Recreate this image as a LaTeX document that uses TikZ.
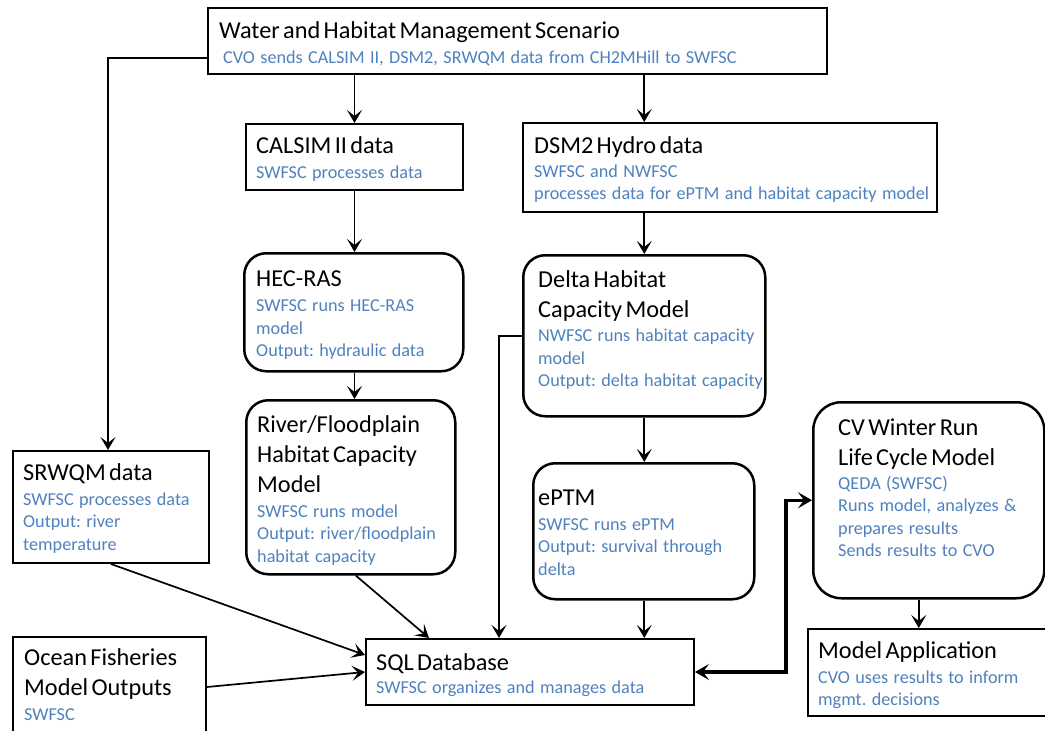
\documentclass[tikz,border=0pt]{standalone}
\usepackage{fontspec}
\setmainfont{Carlito}
\usetikzlibrary{arrows.meta,calc}
\definecolor{myblue}{HTML}{4F81BD}
\frenchspacing
\newcommand\ttl{\fontsize{24.3}{30}\selectfont}
\newcommand\blu{\color{myblue}\fontsize{18.2}{22.5}\selectfont\spaceskip=5.4pt plus 1pt minus 1pt\relax}
\newcommand\fst{\rule{0pt}{20pt}}
\tikzset{
  rbox/.style={draw, line width=2pt, anchor=north west, inner sep=0pt},
  rrbox/.style={draw, line width=2.5pt, rounded corners=22pt, anchor=north west, inner sep=0pt},
  txt/.style={anchor=north west, inner sep=0pt, text width=620pt, align=left},
  arr/.style={line width=1.7pt, -{Stealth[length=13pt,width=15pt,inset=6pt]}},
  dbl/.style={line width=3.5pt, {Stealth[length=14pt,width=16pt,inset=6pt]}-{Stealth[length=14pt,width=16pt,inset=6pt]}},
}
\begin{document}
\begin{tikzpicture}[x=1pt,y=-1pt]
\useasboundingbox (0,0) rectangle (1045,731);
% boxes
\node[rbox, minimum width=619pt, minimum height=66pt] (top) at (207,7) {};
\node[rbox, minimum width=217pt, minimum height=66pt] (calsim) at (245,123) {};
\node[rbox, minimum width=414pt, minimum height=89pt] (dsm) at (522,122) {};
\node[rrbox, minimum width=219pt, minimum height=118pt] (hec) at (243,252) {};
\node[rrbox, minimum width=242pt, minimum height=161pt] (delta) at (522,254) {};
\node[rrbox, minimum width=209pt, minimum height=174pt] (river) at (245,399) {};
\node[rbox, minimum width=196pt, minimum height=112pt] (srwqm) at (12,450) {};
\node[rrbox, minimum width=221pt, minimum height=136pt] (eptm) at (532,462) {};
\node[rrbox, rounded corners=28pt, minimum width=231pt, minimum height=196pt] (cv) at (812,401) {};
\node[rbox, minimum width=328pt, minimum height=66pt] (sql) at (365,638) {};
\node[rbox, minimum width=243pt, minimum height=87pt] (model) at (807,628) {};
\node[rbox, minimum width=193pt, minimum height=110pt] (ocean) at (12,636) {};
% texts
\node[txt] (ttop) at (219,18) {{\fst\ttl Water and Habitat Management Scenario\par}\vspace{2.5pt}{\blu\hspace*{4pt}CVO sends CALSIM II, DSM2, SRWQM data from CH2MHill to SWFSC\par}};
\node[txt] (tcalsim) at (256,133) {{\fst\ttl CALSIM II data\par}\vspace{2.5pt}{\blu SWFSC processes data\par}};
\node[txt] (tdsm) at (534,133) {{\fst\ttl DSM2 Hydro data\par}\vspace{1.5pt}{\blu SWFSC and NWFSC\\ processes data for ePTM and habitat capacity model\par}};
\node[txt] (thec) at (256,266) {{\fst\ttl HEC-RAS\par}\vspace{3pt}{\blu SWFSC runs HEC-RAS\\ model\\ Output: hydraulic data\par}};
\node[txt] (tdelta) at (538,267) {{\fst\ttl Delta Habitat\\ Capacity Model\par}\vspace{2pt}{\blu NWFSC runs habitat capacity\\ model\\ Output: delta habitat capacity\par}};
\node[txt] (triver) at (257,412) {{\fst\ttl River/Floodplain\\ Habitat Capacity\\ Model\par}\vspace{2.5pt}{\blu SWFSC runs model\\ Output: river/floodplain\\ habitat capacity\par}};
\node[txt] (tsrwqm) at (23,460) {{\fst\ttl SRWQM data\par}\vspace{2.5pt}{\blu SWFSC processes data\\ Output: river\\ temperature\par}};
\node[txt] (teptm) at (538,485) {{\fst\ttl ePTM\par}\vspace{2.5pt}{\blu SWFSC runs ePTM\\ Output: survival through\\ delta\par}};
\node[txt] (tcv) at (838,415) {{\fst\ttl CV Winter Run\\ Life Cycle Model\par}\vspace{1.5pt}{\blu QEDA (SWFSC)\\ Runs model, analyzes \&\\ prepares results\\ Sends results to CVO\par}};
\node[txt] (tsql) at (376,650) {{\fst\ttl SQL Database\par}\vspace{0.5pt}{\blu SWFSC organizes and manages data\par}};
\node[txt] (tmodel) at (818,638) {{\fst\ttl Model Application\par}\vspace{2.5pt}{\blu CVO uses results to inform\\ mgmt. decisions\par}};
\node[txt] (tocean) at (24,645) {{\fst\ttl Ocean Fisheries\\ Model Outputs\par}\vspace{2.5pt}{\blu SWFSC\par}};
% connectors
\coordinate (mid) at (786,0);
\draw[arr] (calsim.north |- top.south) -- (calsim.north);
\draw[arr] (delta.north |- top.south) -- (delta.north |- dsm.north);
\draw[arr] (delta.north |- dsm.south) -- (delta.north);
\draw[arr] (delta.south) -- (delta.south |- eptm.north);
\draw[arr] (delta.south |- eptm.south) -- (delta.south |- sql.north);
\draw[arr] (calsim.south) -- (calsim.south |- hec.north);
\draw[arr] (calsim.south |- hec.south) -- (calsim.south |- river.north);
\draw[arr] ([yshift=-17pt]top.west) -| ([xshift=-3pt]srwqm.north);
\draw[arr] (srwqm.south) -- ([yshift=17pt]sql.west);
\draw[arr] ([yshift=5pt]ocean.east) -- (sql.west);
\draw[arr] ([xshift=5pt]river.south) -- ([xshift=-101pt]sql.north);
\draw[arr] (delta.west) -| ([xshift=-31pt]sql.north);
\draw[dbl] (sql.east) -- (sql.east -| mid) |- (cv.west);
\draw[arr] ([xshift=-10pt]cv.south) -- ([xshift=-10pt]cv.south |- model.north);
\end{tikzpicture}
\end{document}
